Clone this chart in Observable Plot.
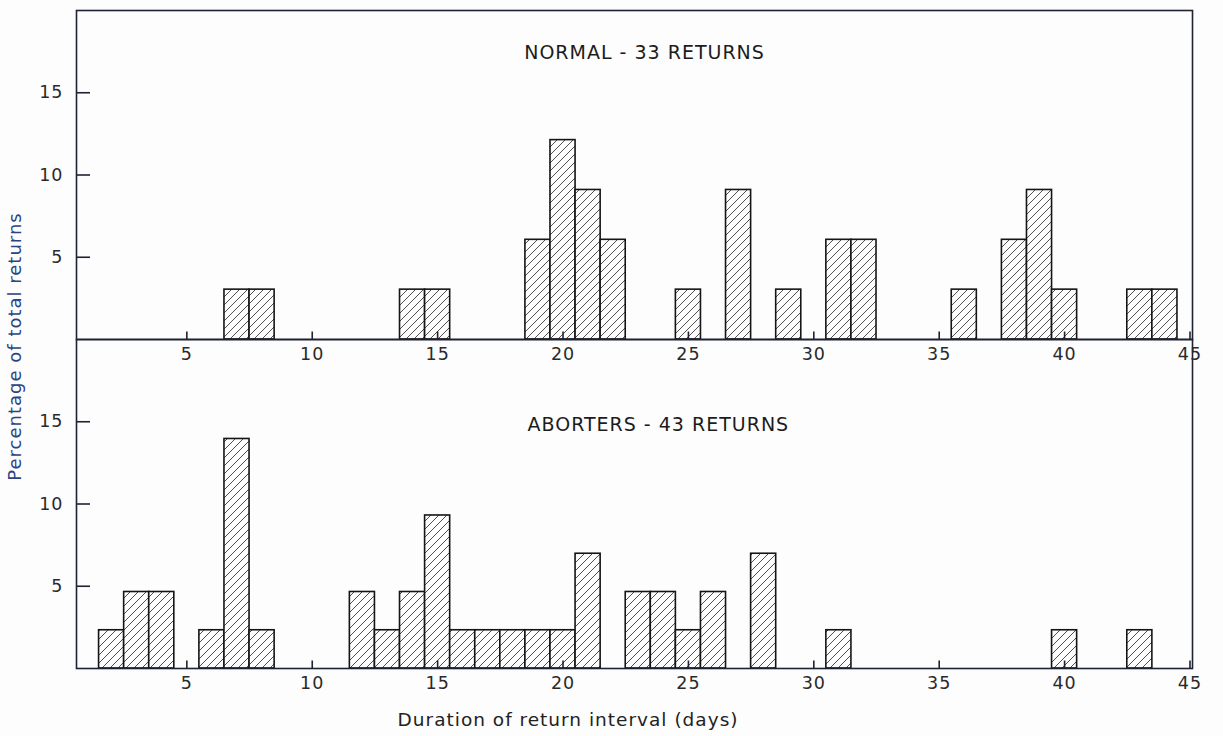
<!DOCTYPE html>
<html>
<head>
<meta charset="utf-8">
<script src="https://cdn.jsdelivr.net/npm/d3@7"></script>
<script src="https://cdn.jsdelivr.net/npm/@observablehq/plot@0.6"></script>
<style>
  html, body { margin: 0; padding: 0; background: #fdfdfd; }
  #chart svg { display: block; background: #fdfdfd; }
  #chart svg text { letter-spacing: 1px; }
</style>
</head>
<body>
<div id="chart"></div>
<script>
// Return intervals (days) and number of returns on each day, per group
const panels = ["NORMAL", "ABORTERS"];
const panelTitles = ["NORMAL - 33 RETURNS", "ABORTERS - 43 RETURNS"];
const totalReturns = [33, 43];

const normalDays   = [7, 8, 14, 15, 19, 20, 21, 22, 25, 27, 29, 31, 32, 36, 38, 39, 40, 43, 44];
const normalCounts = [1, 1, 1, 1, 2, 4, 3, 2, 1, 3, 1, 2, 2, 1, 2, 3, 1, 1, 1];

const aborterDays   = [2, 3, 4, 6, 7, 8, 12, 13, 14, 15, 16, 17, 18, 19, 20, 21, 23, 24, 25, 26, 28, 31, 40, 43];
const aborterCounts = [1, 2, 2, 1, 6, 1, 2, 1, 2, 4, 1, 1, 1, 1, 1, 3, 2, 2, 1, 2, 3, 1, 1, 1];

const xTicks = [5, 10, 15, 20, 25, 30, 35, 40, 45];
const yTicks = [5, 10, 15];

const xLabel = "Duration of return interval (days)";
const yLabel = "Percentage of total returns";

// Percentage of the group's total returns for each interval
const rows = [
  ...normalDays.map((d, i) => ({panel: panels[0], day: d, pct: normalCounts[i] / totalReturns[0] * 100})),
  ...aborterDays.map((d, i) => ({panel: panels[1], day: d, pct: aborterCounts[i] / totalReturns[1] * 100}))
];

const W = 1223, H = 736;
const mL = 76, mR = 31, mT = 9, mB = 68;
const plotW = W - mL - mR;
const facetH = (H - mT - mB) / 2;
const ink = "#1f2233";
const font = "'DejaVu Sans', Verdana, sans-serif";

const chart = Plot.plot({
  width: W,
  height: H,
  marginLeft: mL,
  marginRight: mR,
  marginTop: mT,
  marginBottom: mB,
  style: {fontFamily: font, color: ink, background: "transparent"},
  x: {domain: [0.6, 45.1], axis: null},
  y: {domain: [0, 20], axis: null},
  fy: {domain: panels, padding: 0, axis: null},
  marks: [
    // hatched histogram bars, one day wide
    Plot.rectY(rows, {
      fy: "panel",
      x1: d => d.day - 0.5,
      x2: d => d.day + 0.5,
      y: "pct",
      fill: "url(#hatch)",
      stroke: "#151515",
      strokeWidth: 1.6
    }),
    // panel frames
    Plot.frame({stroke: ink, strokeWidth: 1.6}),
    // inward x ticks on each baseline
    Plot.ruleX(xTicks, {x: d => d, insetTop: facetH - 8, stroke: ink, strokeWidth: 1.6}),
    // inward y ticks on the left edge
    Plot.ruleY(yTicks, {y: d => d, insetRight: plotW - 14, stroke: ink, strokeWidth: 1.6}),
    // tick labels
    Plot.text(xTicks, {x: d => d, frameAnchor: "bottom", dy: 20, fontSize: 17.5, fill: "#2a2a2a"}),
    Plot.text(yTicks, {y: d => d, frameAnchor: "left", dx: -13, textAnchor: "end", fontSize: 17.5, fill: "#2a2a2a"}),
    // panel titles
    Plot.text([panelTitles[0]], {fy: [panels[0]], x: 23.25, y: 17.4, fontSize: 19, fill: "#1c1c1c"}),
    Plot.text([panelTitles[1]], {fy: [panels[1]], x: 23.8, y: 14.8, fontSize: 19, fill: "#1c1c1c"}),
    // axis titles
    Plot.text([xLabel], {fy: [panels[1]], x: 20.2, frameAnchor: "bottom", dy: 57, fontSize: 18.5, fill: "#222"}),
    Plot.text([yLabel], {fy: [panels[0]], frameAnchor: "bottom-left", dx: -56, dy: 7, rotate: -90, textAnchor: "middle", fontSize: 18, fill: "#2b4480"})
  ]
});

// diagonal hatch pattern used as the bar fill
const svg = d3.select(chart);
const defs = svg.insert("defs", ":first-child");
const pat = defs.append("pattern")
  .attr("id", "hatch")
  .attr("patternUnits", "userSpaceOnUse")
  .attr("width", 8)
  .attr("height", 8);
pat.append("rect").attr("width", 8).attr("height", 8).attr("fill", "#fdfdfd");
pat.append("path")
  .attr("d", "M-2,2 L2,-2 M0,8 L8,0 M6,10 L10,6")
  .attr("stroke", "#3a3a3a")
  .attr("stroke-width", 0.9);

document.getElementById("chart").appendChild(chart);
</script>
</body>
</html>
